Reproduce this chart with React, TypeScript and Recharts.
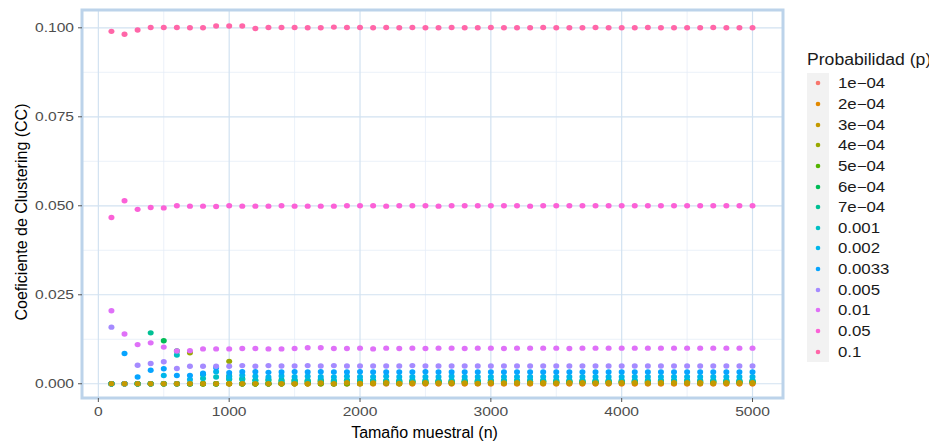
import React from 'react';
import { ScatterChart, Scatter, XAxis, YAxis, CartesianGrid, ReferenceArea } from 'recharts';

// tamaño muestral n = 100 ... 5000
const sizes = [
  100, 200, 300, 400, 500, 600, 700, 800, 900, 1000,
  1100, 1200, 1300, 1400, 1500, 1600, 1700, 1800, 1900, 2000,
  2100, 2200, 2300, 2400, 2500, 2600, 2700, 2800, 2900, 3000,
  3100, 3200, 3300, 3400, 3500, 3600, 3700, 3800, 3900, 4000,
  4100, 4200, 4300, 4400, 4500, 4600, 4700, 4800, 4900, 5000,
];

const xTicks = [0, 1000, 2000, 3000, 4000, 5000];
const xMinor = [500, 1500, 2500, 3500, 4500];
const yTicks = [0, 0.025, 0.05, 0.075, 0.1];
const yMinor = [0.0125, 0.0375, 0.0625, 0.0875];

const probLabels = ['1e−04', '2e−04', '3e−04', '4e−04', '5e−04', '6e−04', '7e−04', '0.001', '0.002', '0.0033', '0.005', '0.01', '0.05', '0.1'];
const probColors = ['#F8766D', '#E38900', '#C49A00', '#99A800', '#53B400', '#00BC56', '#00C094', '#00BFC4', '#00B6EB', '#06A4FF', '#A58AFF', '#DF70F8', '#FB61D7', '#FF66A8'];

const cc1e4 = [
  0, 0, 0, 0, 0, 0, 0, 0, 0, 0,
  0, 0, 0, 0, 0, 0, 0, 0, 0, 0,
  0, 0, 0, 0, 0, 0, 0, 0, 0, 0,
  0, 0, 0, 0, 0, 0, 0, 0, 0, 0,
  0, 0, 0, 0, 0, 0, 0, 0, 0, 0,
];
const cc2e4 = [
  0, 0, 0, 0, 0, 0, 0, 0, 0, 0,
  0, 0, 0, 0, 0, 0, 0, 0, 0, 0,
  0, 0, 0, 0, 0, 0, 0, 0, 0, 0,
  0, 0, 0, 0, 0, 0, 0, 0, 0, 0,
  0, 0, 0, 0, 0, 0, 0, 0, 0, 0,
];
const cc3e4 = [
  0, 0, 0, 0, 0, 0, 0, 0, 0, 0,
  0, 0, 0, 0, 0, 0, 0.0002, 0, 0.0003, 0.0001,
  0.0002, 0.0003, 0.0001, 0.0002, 0.0003, 0.0002, 0.0003, 0.0002, 0.0001, 0.0003,
  0.0002, 0.0003, 0.0002, 0.0003, 0.0002, 0.0003, 0.0003, 0.0002, 0.0003, 0.0003,
  0.0003, 0.0002, 0.0003, 0.0003, 0.0003, 0.0003, 0.0002, 0.0003, 0.0003, 0.0003,
];
const cc4e4 = [
  0, 0, 0, 0, 0, 0, 0.0087, 0, 0, 0.0063,
  0, 0, 0, 0, 0.0005, 0, 0.0009, 0, 0.0006, 0,
  0.0008, 0.0004, 0, 0.0006, 0.0003, 0.0005, 0.0004, 0.0006, 0.0003, 0.0005,
  0.0004, 0.0004, 0.0005, 0.0003, 0.0004, 0.0005, 0.0004, 0.0004, 0.0003, 0.0004,
  0.0004, 0.0005, 0.0004, 0.0004, 0.0004, 0.0003, 0.0004, 0.0004, 0.0004, 0.0004,
];
const cc5e4 = [
  0, 0, 0, 0, 0, 0, 0, 0, 0, 0,
  0, 0, 0, 0.0006, 0, 0.0007, 0, 0.0004, 0, 0.0006,
  0.0003, 0.0005, 0.0004, 0.0006, 0.0004, 0.0005, 0.0003, 0.0005, 0.0005, 0.0004,
  0.0005, 0.0004, 0.0005, 0.0005, 0.0004, 0.0005, 0.0005, 0.0004, 0.0005, 0.0005,
  0.0005, 0.0004, 0.0005, 0.0005, 0.0005, 0.0004, 0.0005, 0.0005, 0.0005, 0.0005,
];
const cc6e4 = [
  0, 0, 0, 0, 0.0121, 0.0092, 0, 0, 0, 0.0022,
  0.0014, 0, 0.0009, 0, 0.0010, 0.0004, 0.0007, 0, 0.0008, 0.0005,
  0.0006, 0.0003, 0.0007, 0.0005, 0.0004, 0.0006, 0.0007, 0.0005, 0.0006, 0.0004,
  0.0006, 0.0005, 0.0006, 0.0007, 0.0005, 0.0006, 0.0005, 0.0006, 0.0006, 0.0005,
  0.0006, 0.0006, 0.0005, 0.0006, 0.0006, 0.0005, 0.0006, 0.0006, 0.0006, 0.0006,
];
const cc7e4 = [
  0, 0, 0, 0.0143, 0, 0, 0, 0.0026, 0, 0.0013,
  0, 0.0009, 0, 0.0011, 0.0006, 0.0008, 0.0005, 0.0007, 0.0009, 0.0006,
  0.0008, 0.0007, 0.0006, 0.0007, 0.0008, 0.0007, 0.0006, 0.0007, 0.0007, 0.0008,
  0.0007, 0.0007, 0.0006, 0.0007, 0.0007, 0.0007, 0.0008, 0.0007, 0.0007, 0.0007,
  0.0007, 0.0006, 0.0007, 0.0007, 0.0007, 0.0007, 0.0007, 0.0008, 0.0007, 0.0007,
];
const cc001 = [
  0, 0, 0, 0, 0, 0.0081, 0, 0.0015, 0.0019, 0.0014,
  0.0012, 0.0010, 0.0013, 0.0008, 0.0011, 0.0010, 0.0012, 0.0009, 0.0010, 0.0011,
  0.0010, 0.0009, 0.0010, 0.0011, 0.0010, 0.0010, 0.0010, 0.0011, 0.0010, 0.0010,
  0.0010, 0.0010, 0.0011, 0.0010, 0.0010, 0.0010, 0.0010, 0.0010, 0.0010, 0.0010,
  0.0010, 0.0010, 0.0010, 0.0010, 0.0010, 0.0010, 0.0010, 0.0010, 0.0010, 0.0010,
];
const cc002 = [
  0, 0, 0, 0, 0.0023, 0, 0.0012, 0.0026, 0.0034, 0.0020,
  0.0024, 0.0021, 0.0019, 0.0022, 0.0020, 0.0021, 0.0020, 0.0019, 0.0021, 0.0020,
  0.0020, 0.0021, 0.0020, 0.0020, 0.0020, 0.0020, 0.0021, 0.0020, 0.0020, 0.0020,
  0.0020, 0.0020, 0.0020, 0.0020, 0.0020, 0.0020, 0.0020, 0.0020, 0.0020, 0.0020,
  0.0020, 0.0020, 0.0020, 0.0020, 0.0020, 0.0020, 0.0020, 0.0020, 0.0020, 0.0020,
];
const cc0033 = [
  0, 0.0085, 0.0019, 0.0038, 0.0042, 0.0023, 0.0023, 0.0030, 0.0045, 0.0031,
  0.0034, 0.0034, 0.0032, 0.0033, 0.0034, 0.0033, 0.0034, 0.0033, 0.0033, 0.0034,
  0.0033, 0.0033, 0.0033, 0.0033, 0.0034, 0.0033, 0.0033, 0.0033, 0.0033, 0.0033,
  0.0033, 0.0033, 0.0033, 0.0033, 0.0033, 0.0033, 0.0033, 0.0033, 0.0033, 0.0033,
  0.0033, 0.0033, 0.0033, 0.0033, 0.0033, 0.0033, 0.0033, 0.0033, 0.0033, 0.0033,
];
const cc005 = [
  0.0159, 0, 0.0052, 0.0057, 0.0062, 0.0043, 0.0049, 0.0049, 0.0049, 0.0049,
  0.0051, 0.0049, 0.0051, 0.0050, 0.0050, 0.0051, 0.0050, 0.0051, 0.0050, 0.0050,
  0.0050, 0.0050, 0.0050, 0.0051, 0.0050, 0.0050, 0.0050, 0.0050, 0.0050, 0.0050,
  0.0050, 0.0050, 0.0050, 0.0050, 0.0050, 0.0050, 0.0050, 0.0050, 0.0050, 0.0050,
  0.0050, 0.0050, 0.0050, 0.0050, 0.0050, 0.0050, 0.0050, 0.0050, 0.0050, 0.0050,
];
const cc01 = [
  0.0205, 0.0140, 0.0110, 0.0115, 0.0103, 0.0092, 0.0093, 0.0098, 0.0098, 0.0098,
  0.0099, 0.0099, 0.0098, 0.0098, 0.0099, 0.0101, 0.0101, 0.0099, 0.0099, 0.0100,
  0.0098, 0.0100, 0.0099, 0.0100, 0.0099, 0.0100, 0.0100, 0.0099, 0.0100, 0.0100,
  0.0099, 0.0100, 0.0100, 0.0100, 0.0100, 0.0099, 0.0100, 0.0100, 0.0100, 0.0100,
  0.0100, 0.0100, 0.0100, 0.0100, 0.0100, 0.0100, 0.0100, 0.0100, 0.0100, 0.0100,
];
const cc05 = [
  0.0467, 0.0514, 0.0490, 0.0495, 0.0494, 0.0500, 0.0499, 0.0499, 0.0498, 0.0500,
  0.0499, 0.0499, 0.0499, 0.0500, 0.0499, 0.0499, 0.0499, 0.0499, 0.0500, 0.0500,
  0.0500, 0.0499, 0.0500, 0.0500, 0.0500, 0.0499, 0.0500, 0.0500, 0.0500, 0.0500,
  0.0500, 0.0500, 0.0499, 0.0500, 0.0500, 0.0500, 0.0500, 0.0500, 0.0500, 0.0500,
  0.0500, 0.0500, 0.0500, 0.0500, 0.0500, 0.0500, 0.0500, 0.0500, 0.0500, 0.0500,
];
const cc1 = [
  0.0990, 0.0982, 0.0994, 0.1001, 0.1001, 0.1001, 0.1000, 0.1000, 0.1005, 0.1005,
  0.1005, 0.0998, 0.1001, 0.1001, 0.1001, 0.1000, 0.1000, 0.1002, 0.1001, 0.1001,
  0.1000, 0.1001, 0.1000, 0.1001, 0.1000, 0.1000, 0.1001, 0.1000, 0.1000, 0.1001,
  0.1000, 0.1000, 0.1000, 0.1001, 0.1000, 0.1000, 0.1000, 0.1001, 0.1000, 0.1000,
  0.1000, 0.1001, 0.1000, 0.1000, 0.1000, 0.1000, 0.1001, 0.1000, 0.1000, 0.1000,
];

const seriesValues = [cc1e4, cc2e4, cc3e4, cc4e4, cc5e4, cc6e4, cc7e4, cc001, cc002, cc0033, cc005, cc01, cc05, cc1];

const series = probLabels.map((label, i) => ({
  label,
  color: probColors[i],
  data: sizes.map((n, j) => ({ n, cc: seriesValues[i][j] })),
}));

// 3e-04 sits on top of the zero row in the original, so it is drawn last
const drawOrder = [...series.filter((s) => s.label !== '3e−04'), ...series.filter((s) => s.label === '3e−04')];

const FONT = 'Liberation Sans, Arial, sans-serif';

const XTick = (props: any) => {
  const { x, y, payload } = props;
  return (
    <g transform={`translate(${x},${y})`}>
      <text transform="scale(1.2,1)" textAnchor="middle" dy="0.71em" fontSize={13} fill="#4d4d4d" fontFamily={FONT}>
        {payload.value}
      </text>
    </g>
  );
};

const YTick = (props: any) => {
  const { x, y, payload } = props;
  return (
    <g transform={`translate(${x},${y})`}>
      <text transform="scale(1.2,1)" textAnchor="end" dy="0.35em" fontSize={13} fill="#4d4d4d" fontFamily={FONT}>
        {Number(payload.value).toFixed(3)}
      </text>
    </g>
  );
};

const Legend = () => (
  <div style={{ position: 'absolute', left: 799, top: 43, fontFamily: FONT, color: '#1a1a1a' }}>
    <div style={{ fontSize: 16, height: 22, whiteSpace: 'nowrap', transform: 'scaleX(1.1)', transformOrigin: 'left' }}>
      Probabilidad (p)
    </div>
    <div style={{ background: '#f2f2f2', width: 22, position: 'absolute', top: 22, left: 0, height: 289 }} />
    <div style={{ position: 'relative' }}>
      {series.map((s) => (
        <div key={s.label} style={{ height: 20.65, display: 'flex', alignItems: 'center', position: 'relative' }}>
          <svg width={22} height={20} style={{ flex: 'none' }}>
            <circle cx={11} cy={10} r={2.3} fill={s.color} />
          </svg>
          <span style={{ marginLeft: 9, fontSize: 14, whiteSpace: 'nowrap', transform: 'scaleX(1.2)', transformOrigin: 'left' }}>
            {s.label}
          </span>
        </div>
      ))}
    </div>
  </div>
);

export default function App() {
  return (
    <div style={{ position: 'relative', width: 929, height: 435 }}>
      <ScatterChart width={929} height={435} margin={{ top: 2, right: 154, bottom: 0, left: 0 }}>
        <CartesianGrid stroke="#e6eef7" strokeWidth={0.8} verticalValues={xMinor} horizontalValues={yMinor} />
        <CartesianGrid stroke="#d2e2f1" strokeWidth={1.2} verticalValues={xTicks} horizontalValues={yTicks} />
        <XAxis
          type="number"
          dataKey="n"
          domain={[-125, 5233]}
          ticks={xTicks}
          allowDataOverflow
          axisLine={false}
          tickLine={{ stroke: '#555', strokeWidth: 1 }}
          tickSize={4}
          tickMargin={5}
          height={45}
          tick={<XTick />}
          label={{
            content: (p: any) => {
              const vb = p.viewBox;
              return (
                <text x={vb.x + vb.width / 2 - 8} y={vb.y + 40} textAnchor="middle" fontSize={16} fill="#000" fontFamily={FONT}>
                  Tamaño muestral (n)
                </text>
              );
            },
          }}
        />
        <YAxis
          type="number"
          dataKey="cc"
          domain={[-0.004, 0.105]}
          ticks={yTicks}
          allowDataOverflow
          axisLine={false}
          tickLine={{ stroke: '#555', strokeWidth: 1 }}
          tickSize={4}
          tickMargin={4}
          width={74}
          tick={<YTick />}
          label={{
            content: (p: any) => {
              const vb = p.viewBox;
              const cx = vb.x + 13;
              const cy = vb.y + vb.height / 2 + 8;
              return (
                <text x={cx} y={cy} transform={`rotate(-90 ${cx} ${cy})`} textAnchor="middle" dy="0.35em" fontSize={16} fill="#000" fontFamily={FONT}>
                  Coeficiente de Clustering (CC)
                </text>
              );
            },
          }}
        />
        <ReferenceArea x1={-125} x2={5233} y1={-0.004} y2={0.105} fill="none" stroke="#bcd3ea" strokeWidth={3} ifOverflow="visible" />
        {drawOrder.map((s) => (
          <Scatter
            key={s.label}
            name={s.label}
            data={s.data}
            fill={s.color}
            isAnimationActive={false}
            shape={(p: any) => <ellipse cx={p.cx} cy={p.cy} rx={3} ry={2.7} fill={s.color} />}
          />
        ))}
      </ScatterChart>
      <Legend />
    </div>
  );
}
